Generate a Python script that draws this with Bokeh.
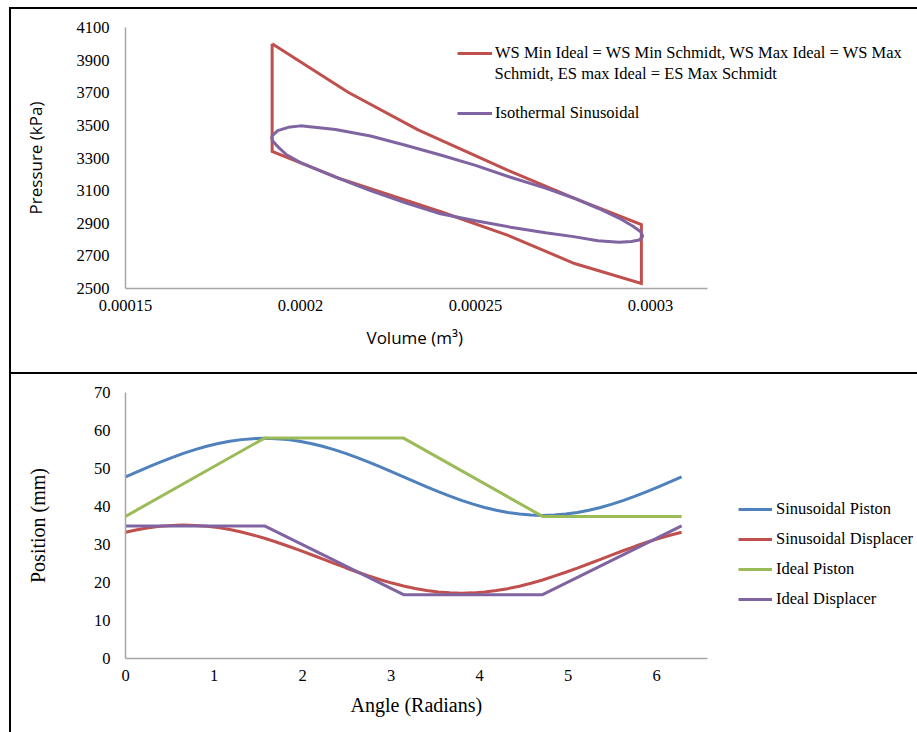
from bokeh.plotting import figure
from bokeh.layouts import column
from bokeh.models import (Range1d, FixedTicker, CustomJSTickFormatter, Legend,
                          LegendItem, Label, InlineStyleSheet, Title)
from bokeh.embed import file_html
from bokeh.resources import INLINE

# ---------------- data: top chart (P-V diagram) ----------------
ws_volume = [0.0001919, 0.0002136, 0.0002336, 0.0002593, 0.0002783, 0.0002974,
             0.0002974, 0.0002783, 0.0002593, 0.0002403, 0.0002111, 0.0001919,
             0.0001919]
ws_pressure = [4000, 3703, 3473, 3224, 3053, 2892,
               2531, 2653, 2826, 2969, 3175, 3340,
               4000]

iso_volume = [0.0001917, 0.0001935, 0.0001965, 0.0002000, 0.0002100, 0.0002200,
              0.0002300, 0.0002400, 0.0002500, 0.0002600, 0.0002700, 0.0002780,
              0.0002850, 0.0002910, 0.0002950, 0.0002972, 0.0002978,
              0.0002968, 0.0002945, 0.0002910, 0.0002850, 0.0002780, 0.0002700,
              0.0002600, 0.0002500, 0.0002400, 0.0002300, 0.0002200, 0.0002100,
              0.0002000, 0.0001960, 0.0001935, 0.0001920, 0.0001917]
iso_pressure = [3432, 3468, 3488, 3497, 3475, 3435,
                3378, 3318, 3255, 3182, 3115, 3055,
                2992, 2932, 2882, 2848, 2820,
                2797, 2788, 2784, 2793, 2818, 2842,
                2876, 2915, 2958, 3025, 3100, 3183,
                3272, 3320, 3370, 3405, 3432]

volume_axis_end = 0.00031629
volume_ticks = [0.00015, 0.0002, 0.00025, 0.0003]
pressure_ticks = [2500, 2700, 2900, 3100, 3300, 3500, 3700, 3900, 4100]

ws_label_line1 = "WS Min Ideal = WS Min Schmidt, WS Max Ideal = WS Max"
ws_label_line2 = "Schmidt, ES max Ideal = ES Max Schmidt"
iso_label = "Isothermal Sinusoidal"

# ---------------- data: bottom chart (positions) ----------------
angle = [0, 0.1309, 0.2618, 0.3927, 0.5236, 0.6545, 0.7854, 0.9163, 1.0472,
         1.1781, 1.3090, 1.4399, 1.5708, 1.7017, 1.8326, 1.9635, 2.0944,
         2.2253, 2.3562, 2.4871, 2.6180, 2.7489, 2.8798, 3.0107, 3.1416,
         3.2725, 3.4034, 3.5343, 3.6652, 3.7961, 3.9270, 4.0579, 4.1888,
         4.3197, 4.4506, 4.5815, 4.7124, 4.8433, 4.9742, 5.1051, 5.2360,
         5.3669, 5.4978, 5.6287, 5.7596, 5.8905, 6.0214, 6.1523, 6.2832]
sin_piston = [47.8, 49.12, 50.43, 51.68, 52.88, 53.98, 54.98, 55.85, 56.59,
              57.18, 57.60, 57.86, 57.95, 57.86, 57.60, 57.18, 56.59,
              55.85, 54.98, 53.98, 52.88, 51.68, 50.43, 49.12, 47.8,
              46.48, 45.17, 43.92, 42.73, 41.62, 40.62, 39.75, 39.01,
              38.42, 38.0, 37.74, 37.65, 37.74, 38.0, 38.42, 39.01,
              39.75, 40.62, 41.62, 42.73, 43.92, 45.17, 46.48, 47.8]
sin_displacer = [33.22, 33.87, 34.40, 34.79, 35.02, 35.10, 35.03, 34.81, 34.44,
                 33.93, 33.28, 32.51, 31.64, 30.66, 29.61, 28.51, 27.37,
                 26.20, 25.03, 23.89, 22.77, 21.72, 20.73, 19.85, 19.08,
                 18.42, 17.91, 17.51, 17.28, 17.20, 17.27, 17.49, 17.87,
                 18.38, 19.03, 19.82, 20.67, 21.68, 22.69, 23.79, 24.93,
                 26.10, 27.27, 28.42, 29.53, 30.59, 31.54, 32.45, 33.22]
ideal_angle = [0, 1.5708, 3.1416, 4.7124, 6.2832]
ideal_piston = [37.4, 58.0, 58.0, 37.4, 37.4]
ideal_displacer = [34.9, 34.9, 16.8, 16.8, 34.9]

angle_axis_end = 6.576
angle_ticks = [0, 1, 2, 3, 4, 5, 6]
position_ticks = [0, 10, 20, 30, 40, 50, 60, 70]

series_names = ["Sinusoidal Piston", "Sinusoidal Displacer", "Ideal Piston", "Ideal Displacer"]

RED = "#C0504D"
PURPLE = "#8064A2"
BLUE = "#4F81BD"
GREEN = "#9BBB59"
AXIS = "#a6a6a6"
SERIF = "Liberation Serif"

panel_css = InlineStyleSheet(css=":host { box-shadow: inset 2px 2px 0 0 #000000; }")

FRAME_W = 792          # plot frame reaches the right edge so legends are not clipped
AXIS_PX = 582          # visible length of the x axis line


def style(p, ylab_font, ylab_size, ystand):
    p.xgrid.visible = False
    p.ygrid.visible = False
    p.outline_line_color = None
    p.border_fill_color = None
    p.background_fill_color = None
    for ax in p.axis:
        ax.axis_line_color = AXIS
        ax.axis_line_width = 1.5
        ax.major_tick_line_color = None
        ax.minor_tick_line_color = None
        ax.major_tick_in = 0
        ax.major_tick_out = 0
        ax.major_label_text_font = SERIF
        ax.major_label_text_font_size = "16.5px"
        ax.major_label_text_color = "#000000"
        ax.axis_label_text_font_style = "normal"
        ax.axis_label_text_color = "#000000"
    p.yaxis.major_label_standoff = 16
    p.xaxis.major_label_standoff = 11
    p.yaxis.axis_label_text_font = ylab_font
    p.yaxis.axis_label_text_font_size = ylab_size
    p.yaxis.axis_label_standoff = ystand


# ---------------- top figure ----------------
x1_start = volume_ticks[0]
x1_end = x1_start + (volume_axis_end - x1_start) * FRAME_W / AXIS_PX
p1 = figure(width=908, height=365, output_backend="svg", toolbar_location=None,
            x_range=Range1d(x1_start, x1_end), y_range=Range1d(2500, 4100),
            min_border_left=116, min_border_right=0, min_border_top=20,
            min_border_bottom=84, margin=(7, 0, 0, 9),
            y_axis_label="Pressure (kPa)")
p1.stylesheets = [panel_css]
style(p1, "Open Sans", "17px", 27)
p1.xaxis.bounds = (x1_start, volume_axis_end)
p1.xaxis.ticker = FixedTicker(ticks=volume_ticks)
p1.xaxis.formatter = CustomJSTickFormatter(code="return tick.toString();")
p1.yaxis.ticker = FixedTicker(ticks=pressure_ticks)
p1.add_layout(Title(text="Volume (m³)", align="left", offset=241,
                    text_font="Open Sans", text_font_size="17px",
                    text_font_style="normal", text_color="#000000", standoff=20),
              "below")

r_ws = p1.line(ws_volume, ws_pressure, line_color=RED, line_width=3, line_join="miter")
r_iso = p1.line(iso_volume, iso_pressure, line_color=PURPLE, line_width=3)

leg1 = Legend(items=[LegendItem(label=ws_label_line1, renderers=[r_ws]),
                     LegendItem(label=iso_label, renderers=[r_iso])],
              location=(332, 165), spacing=40, padding=0, margin=0,
              glyph_width=35, glyph_height=20, label_height=20, label_standoff=3,
              label_text_font=SERIF, label_text_font_size="16.5px",
              label_text_color="#000000",
              border_line_color=None, background_fill_alpha=0)
p1.add_layout(leg1, "center")
p1.add_layout(Label(x=0.000255429, y=3816, text=ws_label_line2,
                    text_font=SERIF, text_font_size="16.5px", text_color="#000000",
                    text_baseline="middle", text_align="left"))

# ---------------- bottom figure ----------------
x2_end = angle_axis_end * FRAME_W / AXIS_PX
p2 = figure(width=908, height=360, output_backend="svg", toolbar_location=None,
            x_range=Range1d(0, x2_end), y_range=Range1d(0, 70),
            min_border_left=116, min_border_right=0, min_border_top=20,
            min_border_bottom=74, margin=(0, 0, 0, 9),
            y_axis_label="Position (mm)")
p2.stylesheets = [panel_css]
style(p2, SERIF, "20px", 42)
p2.xaxis.bounds = (0, angle_axis_end)
p2.xaxis.ticker = FixedTicker(ticks=angle_ticks)
p2.yaxis.ticker = FixedTicker(ticks=position_ticks)
p2.yaxis.major_label_standoff = 15
p2.add_layout(Title(text="Angle (Radians)", align="left", offset=225,
                    text_font=SERIF, text_font_size="20px",
                    text_font_style="normal", text_color="#000000", standoff=16),
              "below")

b1 = p2.line(angle, sin_piston, line_color=BLUE, line_width=3)
b2 = p2.line(angle, sin_displacer, line_color=RED, line_width=3)
b3 = p2.line(ideal_angle, ideal_piston, line_color=GREEN, line_width=3)
b4 = p2.line(ideal_angle, ideal_displacer, line_color=PURPLE, line_width=3)

leg2 = Legend(items=[LegendItem(label=n, renderers=[r]) for n, r in
                     zip(series_names, [b1, b2, b3, b4])],
              location=(613, 49), spacing=10, padding=0, margin=0,
              glyph_width=34, glyph_height=20, label_height=20, label_standoff=4,
              label_text_font=SERIF, label_text_font_size="16.5px",
              label_text_color="#000000",
              border_line_color=None, background_fill_alpha=0)
p2.add_layout(leg2, "center")

layout = column(p1, p2, spacing=0)
open("out.html", "w").write(file_html(layout, INLINE))
